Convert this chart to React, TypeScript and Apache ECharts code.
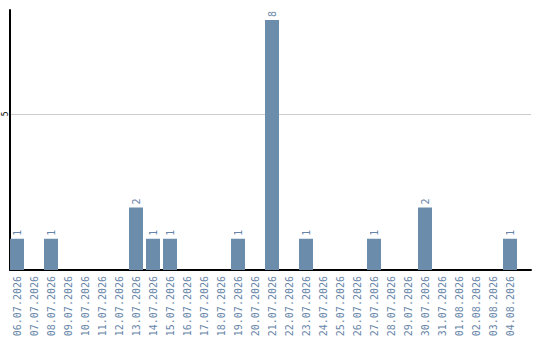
import React, { useEffect, useRef } from "react";
import * as echarts from "echarts";

const dates = [
  "06.07.2026", "07.07.2026", "08.07.2026", "09.07.2026", "10.07.2026",
  "11.07.2026", "12.07.2026", "13.07.2026", "14.07.2026", "15.07.2026",
  "16.07.2026", "17.07.2026", "18.07.2026", "19.07.2026", "20.07.2026",
  "21.07.2026", "22.07.2026", "23.07.2026", "24.07.2026", "25.07.2026",
  "26.07.2026", "27.07.2026", "28.07.2026", "29.07.2026", "30.07.2026",
  "31.07.2026", "01.08.2026", "02.08.2026", "03.08.2026", "04.08.2026",
];
const counts = [
  1, 0, 1, 0, 0, 0, 0, 2, 1, 1,
  0, 0, 0, 1, 0, 8, 0, 1, 0, 0,
  0, 1, 0, 0, 2, 0, 0, 0, 0, 1,
];
const yMax = 8.32;
const yTickStep = 5;

const BAR = "#6b8cab";
const TEXT = "#6785a8";
const MONO = "DejaVu Sans Mono";

export default function App() {
  const ref = useRef<HTMLDivElement>(null);
  useEffect(() => {
    if (!ref.current) return;
    document.body.style.margin = "0";
    document.body.style.overflow = "hidden";
    const chart = echarts.init(ref.current, null, { renderer: "svg" });
    chart.setOption({
      animation: false,
      grid: [
        { left: 8.5, right: 21.5, top: 10, bottom: 70, outerBoundsMode: "none", containLabel: false },
        { left: 10, right: 9, top: 10, bottom: 70, outerBoundsMode: "none", containLabel: false },
      ],
      xAxis: [
        {
          type: "category",
          gridIndex: 0,
          data: dates,
          axisLine: { show: false },
          axisTick: { show: false },
          axisLabel: {
            rotate: 90,
            interval: 0,
            margin: 6,
            hideOverlap: false,
            color: TEXT,
            fontFamily: MONO,
            fontSize: 10,
          },
        },
        {
          type: "value",
          gridIndex: 1,
          min: 0,
          max: 1,
          axisLine: { show: true, lineStyle: { color: "#000", width: 2 } },
          axisTick: { show: false },
          axisLabel: { show: false },
          splitLine: { show: false },
        },
      ],
      yAxis: [
        {
          type: "value",
          gridIndex: 0,
          min: 0,
          max: yMax,
          show: false,
        },
        {
          type: "value",
          gridIndex: 1,
          min: 0,
          max: yMax,
          interval: yTickStep,
          axisLine: { show: true, lineStyle: { color: "#000", width: 2 } },
          axisTick: { show: false },
          axisLabel: {
            show: true,
            rotate: 90,
            margin: 1,
            showMinLabel: false,
            showMaxLabel: false,
            hideOverlap: false,
            color: "#000",
            fontFamily: MONO,
            fontSize: 8,
          },
          splitLine: {
            show: true,
            showMinLine: false,
            showMaxLine: false,
            lineStyle: { color: "#cccccc", width: 1 },
          },
        },
      ],
      series: [
        {
          type: "bar",
          xAxisIndex: 0,
          yAxisIndex: 0,
          data: counts.map((c) => (c > 0 ? c : null)),
          barWidth: 14,
          itemStyle: { color: BAR },
          label: {
            show: true,
            position: "top",
            rotate: 90,
            align: "left",
            verticalAlign: "middle",
            distance: 3,
            color: TEXT,
            fontFamily: MONO,
            fontSize: 10,
          },
        },
      ],
    });
    return () => chart.dispose();
  }, []);
  return <div ref={ref} style={{ width: 540, height: 340 }} />;
}
